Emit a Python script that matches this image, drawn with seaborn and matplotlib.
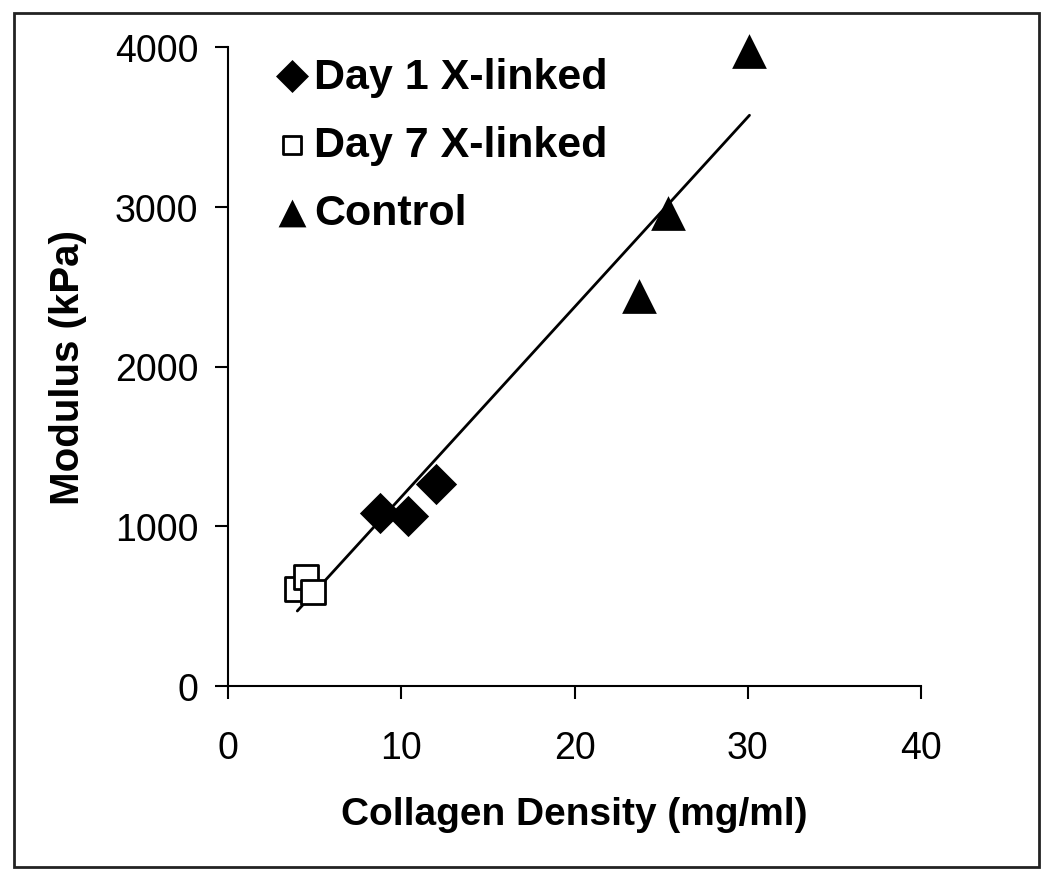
import matplotlib
matplotlib.use("Agg")
import matplotlib.pyplot as plt
import seaborn as sns
import pandas as pd
import numpy as np
from matplotlib.patches import Rectangle

# Data
day1_x = [8.8, 10.4, 12.0]
day1_y = [1080, 1065, 1265]
day7_x = [4.0, 4.5, 4.9]
day7_y = [605, 685, 590]
ctrl_x = [23.7, 25.4, 30.1]
ctrl_y = [2440, 2960, 3975]
xticks = [0, 10, 20, 30, 40]
yticks = [0, 1000, 2000, 3000, 4000]
labels = ["Day 1 X-linked", "Day 7 X-linked", "Control"]

sns.set_theme(style="white")
plt.rcParams['font.family'] = ['Liberation Sans', 'DejaVu Sans']
plt.rcParams['text.color'] = 'black'
plt.rcParams['axes.labelcolor'] = 'black'

fig = plt.figure(figsize=(10.5, 8.87), dpi=100)
ax = fig.add_axes([228/1050, 1-687/887, (921-228)/1050, (687-48)/887])

all_df = pd.DataFrame({"x": day1_x + day7_x + ctrl_x, "y": day1_y + day7_y + ctrl_y})
sns.regplot(data=all_df, x="x", y="y", scatter=False, ci=None, truncate=True,
            line_kws=dict(color="black", lw=2), ax=ax)

sns.scatterplot(x=day1_x, y=day1_y, marker="D", s=21**2, color="black",
                edgecolor="black", linewidth=0, label=labels[0], ax=ax, zorder=3,
                clip_on=False)
sns.scatterplot(x=day7_x, y=day7_y, marker="s", s=17**2, facecolor="white",
                edgecolor="black", linewidth=2, label=labels[1], ax=ax, zorder=3,
                clip_on=False)
sns.scatterplot(x=ctrl_x, y=ctrl_y, marker="^", s=25**2, color="black",
                edgecolor="black", linewidth=0, label=labels[2], ax=ax, zorder=3,
                clip_on=False)

ax.set_xlim(0, 40)
ax.set_ylim(0, 4000)
ax.set_xticks(xticks)
ax.set_yticks(yticks)
ax.set_xticklabels([str(t) for t in xticks])
ax.set_yticklabels([str(t) for t in yticks])
for s in ["top", "right"]:
    ax.spines[s].set_visible(False)
for s in ["left", "bottom"]:
    ax.spines[s].set_color("black")
    ax.spines[s].set_linewidth(1.5)
ax.tick_params(axis="both", direction="out", length=9.5, width=1.5, color="black",
               labelsize=27, labelcolor="black", left=True, bottom=True)
ax.tick_params(axis="y", pad=12)
ax.tick_params(axis="x", pad=22)
ax.set_xlabel("Collagen Density (mg/ml)", fontsize=28, fontweight="bold", labelpad=22,
              color="black")
ax.set_ylabel("Modulus (kPa)", fontsize=29, fontweight="bold", labelpad=20,
              color="black")
ax.grid(False)

leg = ax.legend(loc="upper left", bbox_to_anchor=(0.065, 0.985), frameon=False,
                prop=dict(weight="bold", size=31), markerscale=0.8,
                handlelength=0.9, handletextpad=0.05, labelspacing=0.66,
                borderaxespad=0, borderpad=0)
for t in leg.get_texts():
    t.set_color("black")

fig.patches.append(Rectangle((14/1050, 1-868/887), (1039-14)/1050, (868-14)/887,
                             transform=fig.transFigure, fill=False,
                             edgecolor="#222222", lw=2))

fig.savefig("out.png", dpi=100, facecolor="white")
